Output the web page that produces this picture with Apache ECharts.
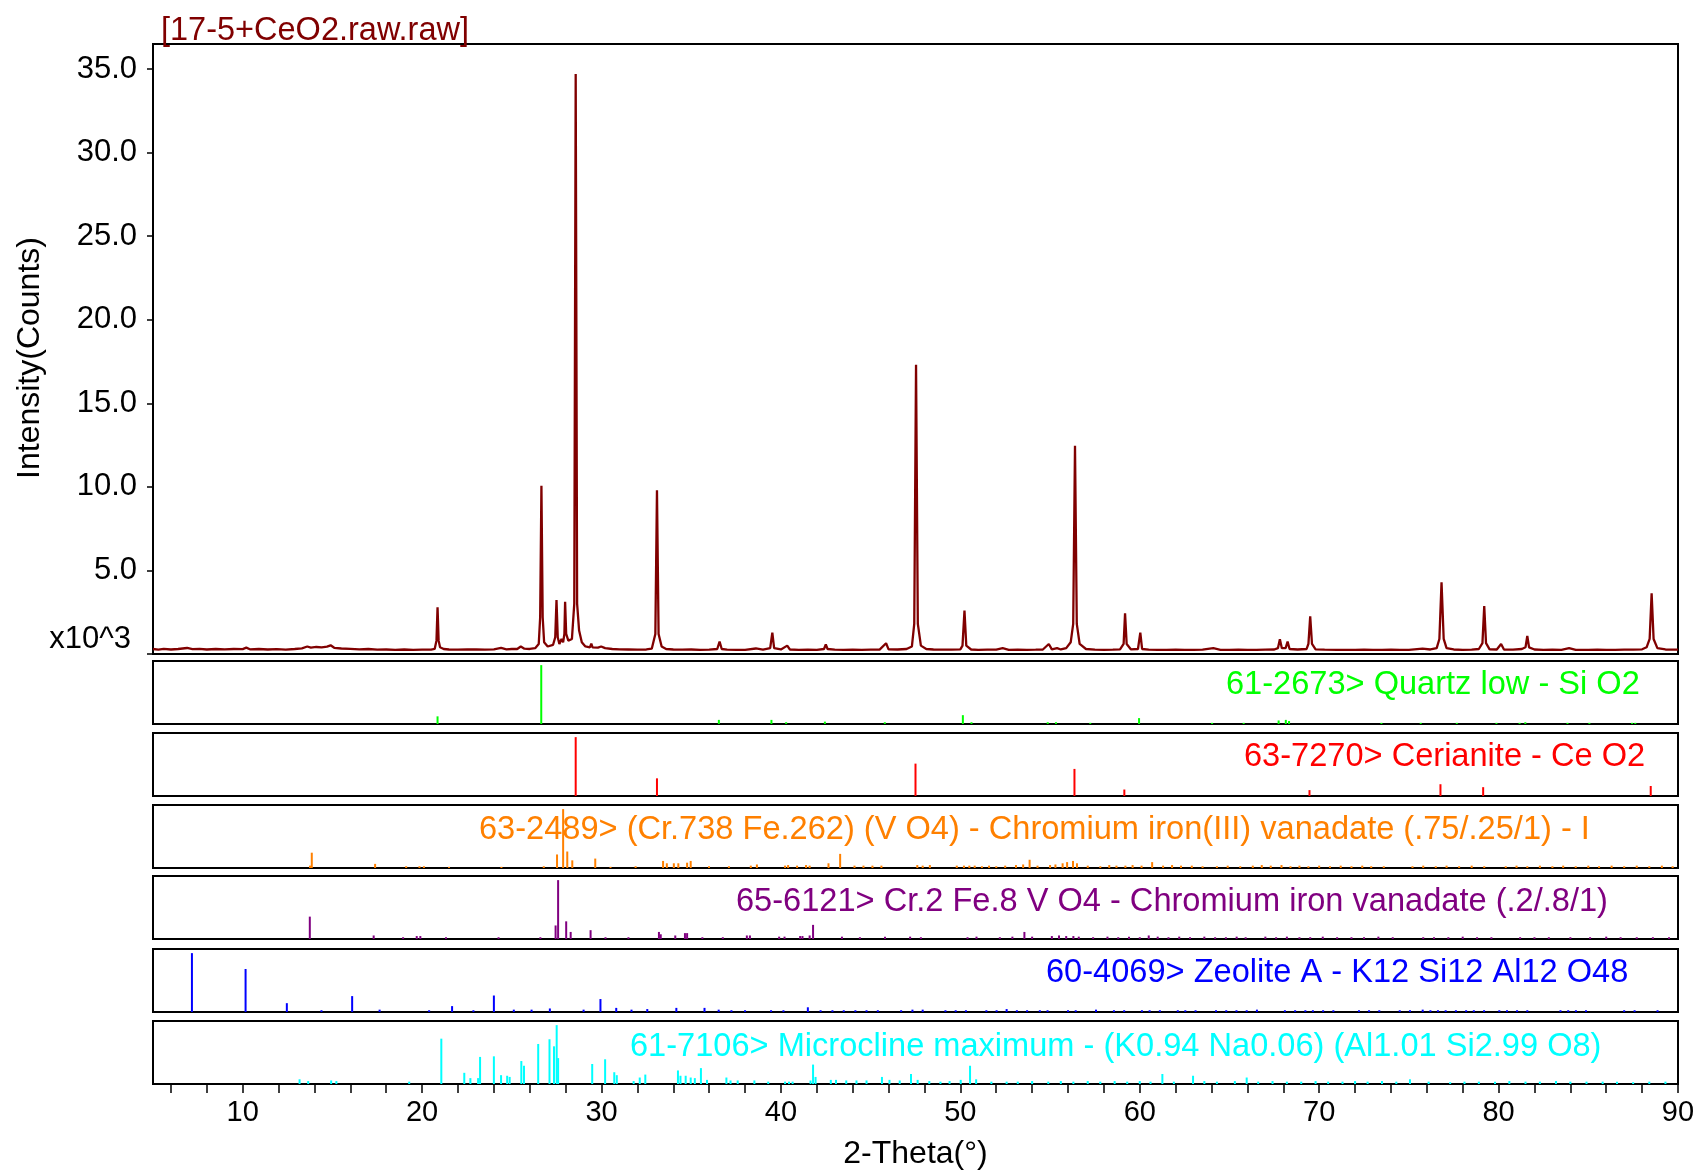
<!DOCTYPE html>
<html>
<head>
<meta charset="utf-8">
<title>17-5+CeO2 XRD</title>
<script src="https://cdn.jsdelivr.net/npm/echarts@6/dist/echarts.min.js"></script>
<style>
  html, body { margin: 0; padding: 0; background: #fff; }
  #chart { width: 1701px; height: 1172px; }
</style>
</head>
<body>
<div id="chart"></div>
<script>
// measured scan: [2-Theta (deg), intensity (x10^3 counts)]
const scan = [
  [5.0,0.30],[5.3,0.26],[5.6,0.31],[6.0,0.27],[6.4,0.30],[6.9,0.36],[7.2,0.29],[7.6,0.31],[8.0,0.27],[8.5,0.30],
  [9.0,0.28],[9.5,0.30],[10.0,0.29],[10.2,0.38],[10.4,0.28],[10.9,0.30],[11.4,0.27],[11.9,0.29],[12.4,0.26],[12.9,0.30],
  [13.3,0.34],[13.6,0.45],[13.8,0.38],[14.1,0.42],[14.4,0.40],[14.7,0.44],[14.9,0.52],[15.1,0.37],[15.5,0.33],[16.0,0.31],
  [16.5,0.28],[17.0,0.30],[17.5,0.26],[18.0,0.27],[18.5,0.25],[19.0,0.27],[19.5,0.25],[20.0,0.26],[20.5,0.26],
  [20.7,0.30],[20.8,0.8],[20.86,2.8],[20.92,0.8],[21.0,0.40],[21.2,0.30],[21.5,0.27],[22.0,0.26],[22.5,0.28],[23.0,0.27],
  [23.5,0.26],[24.0,0.28],[24.4,0.36],[24.7,0.28],[25.0,0.30],[25.3,0.30],[25.5,0.45],[25.7,0.32],[26.0,0.30],[26.3,0.35],
  [26.5,0.6],[26.58,2.2],[26.65,10.06],[26.72,2.2],[26.8,0.7],[27.0,0.45],[27.3,0.55],[27.42,1.0],[27.49,3.23],[27.56,1.0],
  [27.65,0.6],[27.77,0.9],[27.86,0.7],[27.93,1.2],[27.97,3.13],[28.03,1.2],[28.15,0.8],[28.35,0.9],[28.48,3.0],[28.56,34.7],
  [28.64,3.0],[28.75,1.4],[28.9,0.7],[29.1,0.45],[29.35,0.40],[29.43,0.62],[29.5,0.40],[29.8,0.38],[29.98,0.45],[30.2,0.35],
  [30.6,0.30],[31.0,0.28],[31.5,0.27],[32.0,0.26],[32.5,0.27],[32.8,0.32],[33.0,1.2],[33.09,9.8],[33.18,1.2],[33.35,0.45],
  [33.6,0.30],[34.0,0.27],[34.5,0.26],[35.0,0.27],[35.5,0.25],[36.0,0.26],[36.45,0.30],[36.58,0.75],[36.7,0.30],[37.0,0.26],
  [37.5,0.25],[38.0,0.25],[38.6,0.33],[39.0,0.26],[39.4,0.35],[39.52,1.28],[39.62,0.35],[40.0,0.27],[40.35,0.50],[40.5,0.27],
  [41.0,0.25],[41.5,0.26],[42.0,0.25],[42.4,0.30],[42.5,0.58],[42.6,0.30],[43.0,0.26],[43.5,0.25],[44.0,0.26],[44.5,0.25],
  [45.0,0.26],[45.5,0.26],[45.86,0.64],[46.0,0.28],[46.5,0.27],[47.0,0.30],[47.3,0.45],[47.43,1.8],[47.53,17.3],[47.63,1.8],
  [47.8,0.50],[48.1,0.30],[48.5,0.27],[49.0,0.26],[49.5,0.26],[50.0,0.28],[50.12,0.5],[50.23,2.6],[50.33,0.5],[50.6,0.27],
  [51.0,0.25],[51.5,0.26],[52.0,0.26],[52.36,0.35],[52.7,0.25],[53.2,0.26],[53.7,0.25],[54.2,0.26],[54.6,0.27],[54.93,0.60],
  [55.1,0.28],[55.39,0.35],[55.6,0.27],[55.9,0.35],[56.15,0.7],[56.29,1.8],[56.39,12.46],[56.49,1.8],[56.65,0.6],[57.0,0.30],
  [57.5,0.26],[58.0,0.25],[58.5,0.26],[58.9,0.28],[59.1,0.6],[59.18,2.44],[59.27,0.6],[59.5,0.28],[59.9,0.30],[60.03,1.28],
  [60.13,0.30],[60.5,0.26],[61.0,0.25],[61.5,0.25],[62.0,0.26],[62.5,0.25],[63.0,0.25],[63.5,0.26],[64.1,0.35],[64.5,0.25],
  [65.0,0.25],[65.5,0.26],[66.0,0.25],[66.5,0.25],[67.0,0.26],[67.5,0.27],[67.7,0.35],[67.81,0.88],[67.92,0.35],[68.13,0.35],
  [68.24,0.74],[68.35,0.30],[68.8,0.27],[69.3,0.30],[69.4,0.6],[69.5,2.26],[69.6,0.6],[69.8,0.28],[70.3,0.26],[71.0,0.25],
  [71.5,0.25],[72.0,0.25],[72.5,0.26],[73.0,0.25],[73.5,0.25],[74.0,0.26],[74.5,0.25],[75.0,0.25],[75.76,0.32],[76.2,0.27],
  [76.55,0.35],[76.7,0.9],[76.82,4.29],[76.94,0.9],[77.1,0.35],[77.5,0.27],[78.0,0.25],[78.5,0.26],[78.9,0.30],[79.1,0.65],
  [79.2,2.87],[79.3,0.65],[79.5,0.28],[79.9,0.27],[80.14,0.6],[80.3,0.27],[80.8,0.26],[81.3,0.30],[81.5,0.40],[81.6,1.08],
  [81.7,0.40],[82.0,0.27],[82.5,0.25],[83.0,0.26],[83.5,0.25],[83.93,0.35],[84.3,0.25],[85.0,0.25],[85.5,0.26],[86.0,0.25],
  [86.5,0.25],[87.0,0.26],[87.5,0.26],[88.0,0.28],[88.25,0.40],[88.42,0.9],[88.53,3.63],[88.64,0.9],[88.85,0.35],[89.3,0.27],
  [90.0,0.26]
];

// reference patterns: [2-Theta (deg), relative intensity]
const quartz = [
  [20.86,13],[26.64,100],[36.54,7],[39.47,7],[40.29,3],[42.45,4],[45.79,3],[50.14,15],[50.62,3],[54.87,3],
  [55.33,3],[57.24,2],[59.96,10],[64.03,2],[65.79,2],[67.74,6],[68.14,7],[68.32,5],[73.47,2],[75.66,2],
  [77.67,2],[79.88,2],[81.17,2],[81.49,3],[83.84,2],[85.06,2],[87.44,2],[87.62,2]
];
const ceria = [
  [28.56,100],[33.09,30],[47.50,55],[56.36,46],[59.14,11],[69.46,10],[76.76,20],[79.14,15],[88.48,17]
];
const vanadateA = [
  [13.75,4],[13.85,26],[17.38,7],[19.11,3],[19.85,3],[20.1,3],[21.5,2],[24.42,2],[26.78,3],[27.52,23],
  [27.86,100],[28.09,28],[28.37,13],[29.65,16],[30.5,2],[31.9,3],[33.43,12],[33.64,8],[34.03,8],[34.28,8],
  [34.77,9],[34.97,12],[35.99,3],[37.1,3],[38.32,4],[38.66,6],[40.23,4],[40.4,5],[40.9,4],[41.4,5],
  [41.6,4],[42.65,8],[43.3,24],[44.1,4],[44.6,4],[45.1,4],[45.6,4],[47.6,5],[47.9,4],[48.3,5],
  [49.8,4],[50.2,4],[50.5,4],[50.8,4],[51.2,3],[51.6,4],[52.0,3],[52.5,4],[53.1,5],[53.5,6],
  [53.86,14],[54.3,4],[55.0,5],[55.3,6],[55.7,8],[55.95,10],[56.28,12],[56.5,8],[57.1,4],[57.8,3],
  [58.3,5],[58.7,4],[59.2,4],[59.6,5],[60.1,4],[60.69,10],[61.3,4],[61.8,5],[62.3,4],[62.9,4],
  [63.5,3],[64.3,3],[64.9,4],[65.6,3],[66.3,4],[66.8,5],[67.3,4],[67.9,5],[68.4,3],[68.9,4],
  [69.4,3],[70.0,4],[70.6,3],[71.2,4],[71.8,3],[72.4,4],[72.9,3],[73.6,3],[75.2,3],[75.8,4],
  [76.5,3],[77.1,4],[77.8,3],[78.5,4],[79.2,3],[80.4,3],[81.0,4],[81.6,3],[82.3,4],[83.0,3],
  [83.6,4],[84.3,3],[85.0,4],[85.6,3],[86.3,4],[87.0,3],[87.7,4],[88.4,3],[89.1,4],[89.7,3]
];
const vanadateB = [
  [13.74,38],[17.3,6],[18.94,3],[19.7,5],[19.9,5],[21.33,3],[24.26,3],[26.59,3],[27.44,23],[27.58,100],
  [28.03,30],[28.28,12],[29.39,15],[30.22,3],[31.5,3],[33.2,12],[33.3,8],[34.11,6],[34.65,10],[34.77,10],
  [35.62,3],[36.76,3],[38.1,6],[38.27,6],[39.9,4],[40.2,4],[41.07,5],[41.2,5],[41.6,6],[41.79,24],
  [43.4,4],[44.4,3],[45.8,4],[47.2,4],[47.8,3],[50.4,3],[50.9,4],[52.2,3],[52.9,4],[53.57,12],
  [54.0,4],[55.1,5],[55.5,6],[55.9,5],[56.3,5],[56.6,4],[57.4,3],[58.2,4],[58.8,3],[59.4,4],
  [60.0,3],[60.5,6],[61.0,4],[61.6,3],[62.2,4],[62.8,3],[63.6,4],[64.2,3],[64.8,3],[65.4,4],
  [65.9,3],[67.0,4],[67.6,3],[68.2,4],[68.9,3],[69.5,3],[70.2,4],[71.0,3],[71.8,3],[72.5,3],
  [73.3,4],[74.1,3],[75.8,3],[76.4,3],[77.2,3],[78.0,4],[78.8,3],[79.6,3],[81.2,3],[82.0,3],
  [82.8,3],[84.0,3],[85.1,3],[86.0,4],[86.8,3],[87.7,3],[88.6,3],[89.5,3]
];
const zeolite = [
  [7.17,100],[10.16,73],[12.46,15],[14.39,3],[16.1,27],[17.63,4],[20.39,3],[21.67,10],[22.86,3],[24.0,28],
  [25.11,4],[26.1,4],[27.12,6],[29.0,4],[29.94,22],[30.82,7],[31.67,4],[32.55,5],[34.17,7],[35.74,7],
  [36.53,4],[37.24,3],[38.0,3],[39.45,3],[40.14,3],[41.5,8],[42.21,3],[42.87,3],[43.5,3],[44.15,3],
  [44.77,3],[45.4,3],[46.7,3],[47.33,4],[47.9,4],[49.17,3],[49.74,3],[50.31,3],[51.45,3],[52.02,3],
  [52.58,5],[53.15,3],[53.72,3],[54.43,3],[54.86,3],[56.0,3],[56.43,3],[57.56,4],[58.56,3],[59.13,3],
  [60.12,3],[60.55,3],[61.12,3],[62.12,3],[62.54,3],[63.11,3],[64.25,3],[64.82,3],[65.39,3],[65.96,3],
  [66.53,4],[68.09,3],[68.66,3],[69.23,3],[69.65,3],[70.22,3],[70.79,3],[72.22,3],[72.78,3],[73.35,3],
  [74.49,3],[75.06,3],[75.77,4],[76.2,3],[76.62,3],[77.05,3],[77.62,3],[78.19,3],[78.62,3],[79.19,3],
  [80.04,3],[80.47,3],[81.03,3],[81.6,3],[83.45,3],[83.88,3],[84.31,3],[84.87,3],[87.0,3],[87.58,3],
  [88.86,3]
];
const microcline = [
  [13.17,8],[13.65,5],[14.93,6],[15.22,5],[19.28,4],[21.07,77],[22.35,19],[22.69,10],[23.12,10],[23.23,46],
  [24.0,47],[24.4,15],[24.74,14],[24.88,12],[25.53,39],[25.68,31],[26.47,68],[27.1,76],[27.35,64],[27.5,100],
  [27.58,44],[29.48,34],[30.2,42],[30.71,20],[30.85,15],[31.79,5],[32.13,11],[32.44,16],[34.26,23],[34.4,14],
  [34.69,14],[34.97,11],[35.2,10],[35.54,27],[35.88,7],[36.96,11],[37.19,6],[37.59,6],[38.52,6],[39.29,4],
  [40.23,4],[40.45,4],[40.65,4],[41.65,6],[41.79,33],[41.93,12],[42.78,7],[43.07,7],[43.64,6],[44.21,6],
  [44.77,6],[45.63,12],[46.05,7],[46.62,6],[47.25,17],[47.62,7],[48.27,5],[48.89,4],[49.4,5],[50.02,7],
  [50.54,31],[50.88,8],[51.73,4],[52.58,4],[53.2,4],[54.0,5],[54.9,4],[55.6,5],[56.3,4],[57.1,5],
  [57.8,4],[58.6,5],[59.3,4],[60.0,5],[60.6,4],[61.26,17],[61.9,4],[62.97,14],[63.6,5],[64.3,4],
  [65.3,5],[65.96,11],[66.6,4],[67.4,5],[68.2,4],[69.0,4],[69.8,5],[70.5,4],[71.3,4],[72.0,5],
  [72.7,4],[73.5,5],[74.3,4],[75.06,8],[76.1,4],[77.3,3],[78.1,4],[78.9,4],[79.8,4],[80.6,5],
  [81.5,4],[82.3,4],[83.2,5],[84.0,4],[84.9,4],[85.8,4],[86.6,4],[87.5,3],[88.4,4],[89.3,4]
];

const phaseNames = [
  '61-2673> Quartz low - Si O2',
  '63-7270> Cerianite - Ce O2',
  '63-2489> (Cr.738 Fe.262) (V O4) - Chromium iron(III) vanadate (.75/.25/1) - I',
  '65-6121> Cr.2 Fe.8 V O4 - Chromium iron vanadate (.2/.8/1)',
  '60-4069> Zeolite A - K12 Si12 Al12 O48',
  '61-7106> Microcline maximum - (K0.94 Na0.06) (Al1.01 Si2.99 O8)'
];
const phaseData = [quartz, ceria, vanadateA, vanadateB, zeolite, microcline];
const phaseColors = ['#00ff00', '#ff0000', '#ff8000', '#800080', '#0000ff', '#00ffff'];
const yTicks = [0, 5, 10, 15, 20, 25, 30, 35];
const xTicks = [6,8,10,12,14,16,18,20,22,24,26,28,30,32,34,36,38,40,42,44,46,48,50,52,54,56,58,60,62,64,66,68,70,72,74,76,78,80,82,84,86,88,90];
const xLabels = [10, 20, 30, 40, 50, 60, 70, 80, 90];

// layout (px)
const FONT = '"Liberation Sans", Arial, sans-serif';
const plotLeft = 153, plotRight = 23;
const panelTop = [661, 733, 805, 876, 949, 1021];
const panelH = 63;
const labelPos = [[1226, 685], [1244, 757], [479, 830], [736, 902], [1046, 973], [630, 1047]];

const chart = echarts.init(document.getElementById('chart'));

const grids = [{ left: plotLeft, right: plotRight, top: 44, height: 610 }];
panelTop.forEach(t => grids.push({ left: plotLeft, right: plotRight, top: t, height: panelH }));
grids.forEach(g => {
  g.show = true;
  g.borderColor = '#000';
  g.borderWidth = 2;
  g.backgroundColor = 'transparent';
  g.outerBoundsMode = 'none';
  g.containLabel = false;
});

const xAxes = grids.map((g, i) => ({
  type: 'value', gridIndex: i, min: 5, max: 90,
  splitLine: { show: false },
  axisLine: { show: false },
  axisTick: { show: false },
  axisLabel: { show: false }
}));
const last = xAxes[xAxes.length - 1];
last.axisLine = { show: true, onZero: false, lineStyle: { color: '#000', width: 2 } };
last.axisTick = { show: true, customValues: xTicks, length: 9, inside: false, lineStyle: { color: '#000', width: 1.5 } };
last.axisLabel = { show: true, customValues: xLabels, margin: 14, color: '#000', fontSize: 29, fontFamily: FONT };
last.name = '2-Theta(°)';
last.nameLocation = 'middle';
last.nameGap = 54;
last.nameTextStyle = { color: '#000', fontSize: 32, fontFamily: FONT };

const yAxes = [{
  type: 'value', gridIndex: 0, min: 0, max: 36.5,
  splitLine: { show: false },
  axisLine: { show: true, onZero: false, lineStyle: { color: '#000', width: 2 } },
  axisTick: { show: true, customValues: yTicks, length: 6, lineStyle: { color: '#000', width: 1.5 } },
  axisLabel: {
    show: true, customValues: yTicks.slice(1), margin: 16, color: '#000', fontSize: 31, fontFamily: FONT,
    formatter: v => v.toFixed(1)
  }
}];
panelTop.forEach((t, i) => yAxes.push({
  type: 'value', gridIndex: i + 1, min: 0, max: 107, show: false,
  splitLine: { show: false }
}));

function stickSeries(data, color, idx) {
  return {
    type: 'custom',
    xAxisIndex: idx, yAxisIndex: idx,
    data: data,
    clip: true,
    silent: true,
    renderItem: function (params, api) {
      const p0 = api.coord([api.value(0), 0]);
      const p1 = api.coord([api.value(0), api.value(1)]);
      return {
        type: 'line',
        shape: { x1: p0[0], y1: p0[1], x2: p1[0], y2: p1[1] },
        style: { stroke: color, lineWidth: 2 }
      };
    }
  };
}

const series = [{
  type: 'line',
  xAxisIndex: 0, yAxisIndex: 0,
  data: scan,
  showSymbol: false,
  symbol: 'none',
  silent: true,
  lineStyle: { color: '#800000', width: 2.3 },
  animation: false
}];
phaseData.forEach((d, i) => series.push(stickSeries(d, phaseColors[i], i + 1)));

const graphic = [
  {
    type: 'text', x: 161, y: 31, silent: true,
    style: { text: '[17-5+CeO2.raw.raw]', fill: '#800000', font: '32.5px ' + FONT, verticalAlign: 'middle', textVerticalAlign: 'middle' }
  },
  {
    type: 'text', x: 131, y: 639, silent: true,
    style: { text: 'x10^3', fill: '#000', font: '31px ' + FONT, align: 'right', textAlign: 'right', verticalAlign: 'middle', textVerticalAlign: 'middle' }
  },
  {
    type: 'text', x: 30, y: 358, rotation: Math.PI / 2, silent: true,
    style: { text: 'Intensity(Counts)', fill: '#000', font: '32px ' + FONT, align: 'center', textAlign: 'center', verticalAlign: 'middle', textVerticalAlign: 'middle' }
  }
];
phaseNames.forEach((name, i) => graphic.push({
  type: 'text', x: labelPos[i][0], y: labelPos[i][1], silent: true, z: 100,
  style: { text: name, fill: phaseColors[i], font: '32.6px ' + FONT, verticalAlign: 'middle', textVerticalAlign: 'middle' }
}));

chart.setOption({
  animation: false,
  backgroundColor: '#fff',
  grid: grids,
  xAxis: xAxes,
  yAxis: yAxes,
  series: series,
  graphic: graphic
});
</script>
</body>
</html>
